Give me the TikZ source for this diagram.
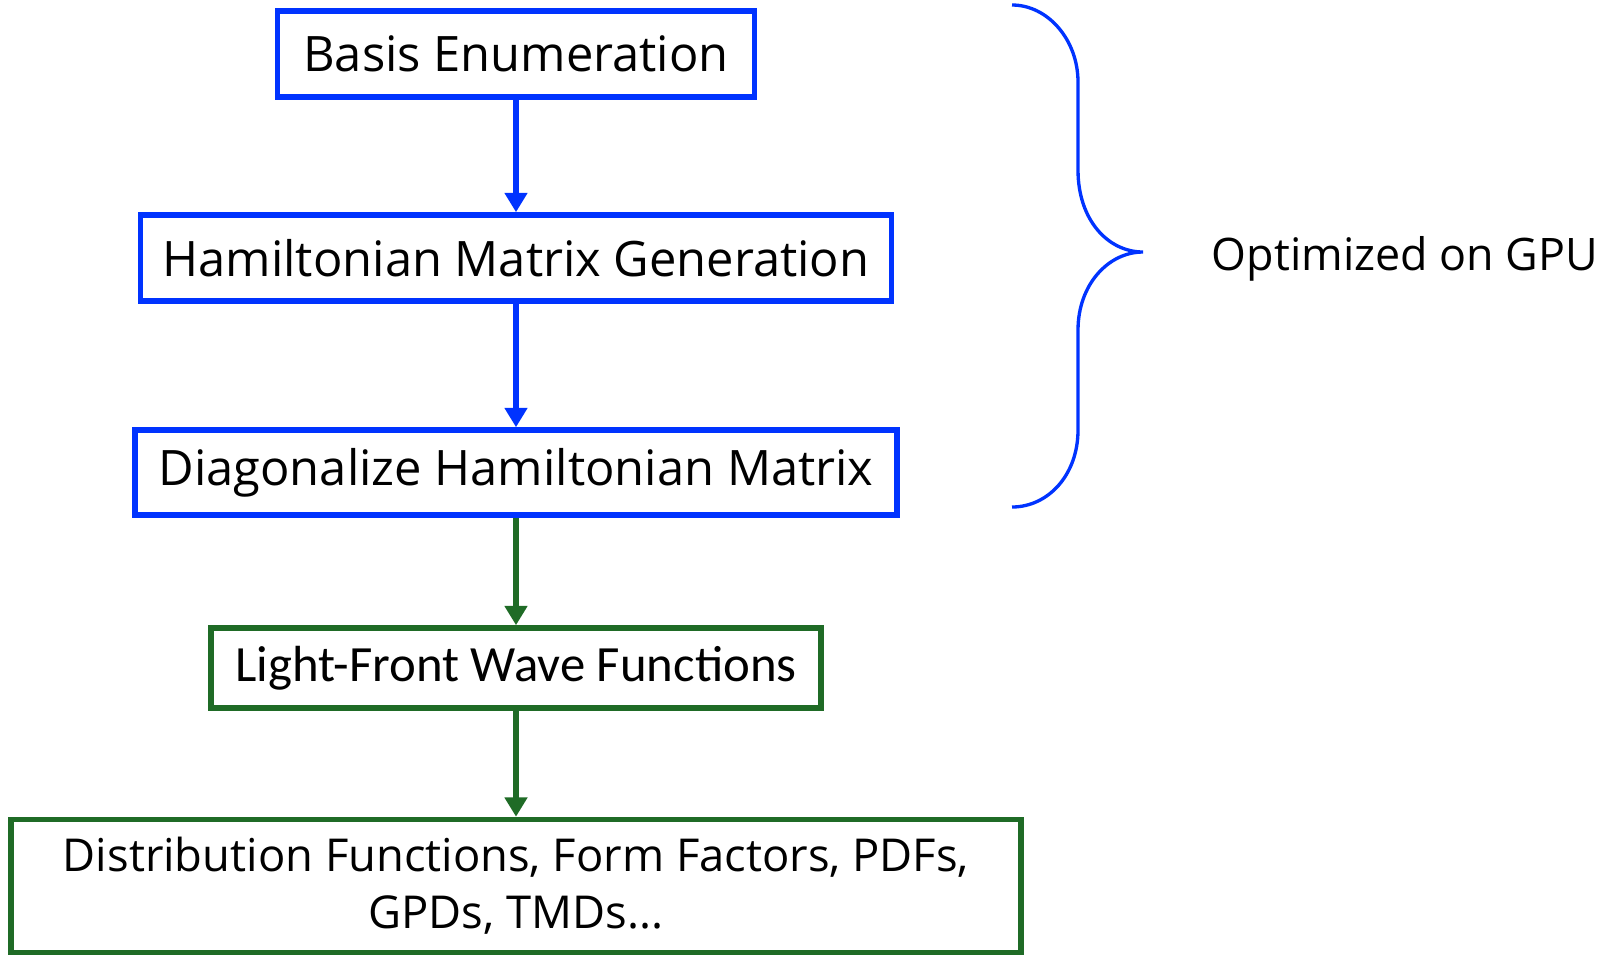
\documentclass[tikz,border=0pt]{standalone}
\usepackage{fontspec}
\setmainfont{Open Sans}
\newfontfamily\lightfont{Carlito}
\usepackage{tikz}
\usetikzlibrary{arrows.meta}
\definecolor{gpublue}{RGB}{0,51,255}
\definecolor{outgreen}{RGB}{31,107,38}

\begin{document}
\begin{tikzpicture}[x=0.02cm,y=-0.02cm,line width=3.2pt,inner sep=0pt,
  stepbox/.style={rectangle,draw=gpublue,font=\fontsize{27.8pt}{32pt}\selectfont},
  outbox/.style={rectangle,draw=outgreen},
  bluearrow/.style={draw=gpublue,-{Triangle[width=12.5pt,length=11pt]}},
  greenarrow/.style={draw=outgreen,-{Triangle[width=12.5pt,length=11pt]}}]
\useasboundingbox (0,0) rectangle (1604,954);
%Node Coordinates
\node at (516,54) [stepbox,minimum width=9.54cm,minimum height=1.72cm] (Box1) {Basis Enumeration};
\node at (516,258) [stepbox,minimum width=15.02cm,minimum height=1.72cm] (Box2) {Hamiltonian Matrix Generation};
\node at (516,472.5) [stepbox,minimum width=15.24cm,minimum height=1.70cm] (Box3) {Diagonalize Hamiltonian Matrix};
\node at (516,668) [outbox,minimum width=12.2cm,minimum height=1.6cm,font=\lightfont\fontsize{28.9pt}{32pt}\selectfont] (Box4) {Light-Front Wave Functions};
\node at (516,886) [outbox,minimum width=20.2cm,minimum height=2.66cm,align=center,font=\fontsize{25.8pt}{32.5pt}\selectfont] (Box5) {Distribution Functions, Form Factors, PDFs,\\GPDs, TMDs...};
%Connections
\draw [bluearrow] (Box1) -- (Box2);
\draw [bluearrow] (Box2) -- (Box3);
\draw [greenarrow] (Box3) -- (Box4);
\draw [greenarrow] (Box4) -- (Box5);
%Brace
\draw [gpublue,line width=1.9pt] (1012,5) .. controls (1048,5) and (1078,40) .. (1078,82)
  -- (1078,170) .. controls (1078,220) and (1108,252) .. (1143,252) coordinate (Tip)
  .. controls (1108,252) and (1078,285) .. (1078,330)
  -- (1078,430) .. controls (1078,475) and (1048,507) .. (1012,507);
\node at (1405,259) [font=\fontsize{25.5pt}{30pt}\selectfont] (GPU) {Optimized on GPU};
\end{tikzpicture}
\end{document}
